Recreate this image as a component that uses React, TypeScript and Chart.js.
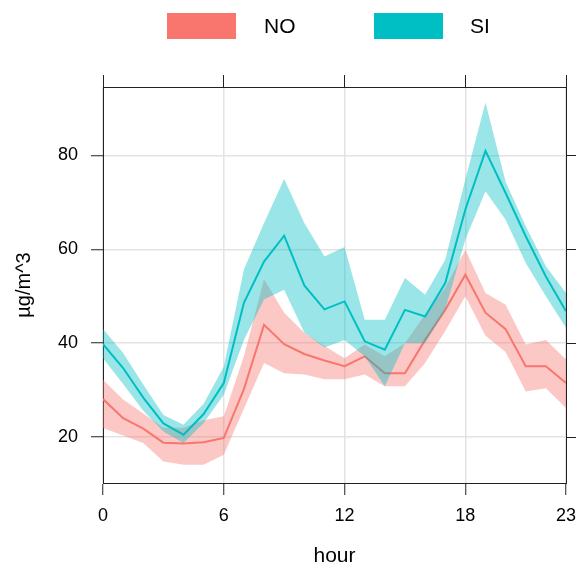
import React, { useEffect, useRef } from "react";
import { Chart, registerables } from "chart.js";

Chart.register(...registerables);

const hours = [0, 1, 2, 3, 4, 5, 6, 7, 8, 9, 10, 11, 12, 13, 14, 15, 16, 17, 18, 19, 20, 21, 22, 23];
const xTicks = [0, 6, 12, 18, 23];
const yTicks = [20, 40, 60, 80];

const noMean = [28.1, 24.0, 21.8, 18.8, 18.6, 18.9, 19.8, 30.2, 43.9, 39.8, 37.7, 36.3, 35.1, 37.2, 33.6, 33.6, 40.7, 47.1, 54.6, 46.5, 43.0, 35.1, 35.1, 31.5];
const noUpper = [32.2, 28.0, 25.0, 22.0, 22.0, 23.6, 24.4, 37.2, 53.6, 46.5, 42.2, 39.4, 36.8, 39.7, 37.2, 40.0, 46.1, 51.8, 59.9, 50.7, 48.2, 39.7, 40.7, 36.5];
const noLower = [21.9, 20.3, 18.7, 14.8, 14.1, 14.1, 16.2, 26.0, 35.8, 33.6, 33.3, 32.3, 32.3, 33.3, 30.8, 30.8, 35.8, 42.6, 50.0, 41.6, 38.1, 29.7, 30.4, 26.2];

const siMean = [39.8, 34.7, 28.4, 22.9, 20.5, 24.9, 31.5, 48.6, 57.4, 62.9, 52.3, 47.2, 48.9, 40.4, 38.6, 47.1, 45.7, 52.8, 68.5, 81.0, 72.0, 62.8, 54.2, 46.8];
const siUpper = [43.0, 37.9, 31.2, 24.7, 22.6, 27.1, 35.0, 55.7, 65.6, 75.0, 65.6, 58.5, 60.5, 45.0, 45.0, 53.9, 50.3, 57.8, 74.9, 91.3, 74.4, 64.9, 56.4, 50.7];
const siLower = [36.8, 31.3, 25.6, 21.2, 18.7, 23.0, 29.0, 40.7, 49.3, 51.4, 42.3, 39.1, 40.7, 37.2, 30.8, 40.0, 40.0, 47.1, 62.1, 72.4, 66.3, 57.1, 50.0, 43.3];

const seriesNames = ["NO", "SI"];
const lineColors = ["#F8766D", "#00BFC4"];
const bandColors = ["rgba(248,118,109,0.4)", "rgba(0,191,196,0.4)"];

const FONT = "'Liberation Sans', Arial, Helvetica, sans-serif";

const pts = (vals: number[]) => hours.map((h, i) => ({ x: h, y: vals[i] }));

export default function App() {
  const ref = useRef<HTMLCanvasElement | null>(null);

  useEffect(() => {
    if (!ref.current) return;
    const fixSize = (w?: number, h?: number) => (scale: any) => {
      if (w !== undefined) scale.width = w;
      if (h !== undefined) scale.height = h;
      scale.paddingLeft = 0;
      scale.paddingRight = 0;
      scale.paddingTop = 0;
      scale.paddingBottom = 0;
    };
    const setX = (scale: any) => {
      scale.ticks = xTicks.map((v) => ({ value: v }));
    };
    const setY = (scale: any) => {
      scale.ticks = yTicks.map((v) => ({ value: v }));
    };
    const band = (vals: number[], color: string, fill: any, order: number) => ({
      data: pts(vals),
      borderWidth: 0,
      borderColor: "rgba(0,0,0,0)",
      backgroundColor: color,
      pointRadius: 0,
      fill,
      tension: 0,
      order,
    });
    const chart = new Chart(ref.current, {
      type: "line",
      data: {
        datasets: [
          {
            label: seriesNames[0],
            data: pts(noMean),
            borderColor: lineColors[0],
            borderWidth: 2,
            pointRadius: 0,
            fill: false,
            order: 4,
          },
          {
            label: seriesNames[1],
            data: pts(siMean),
            borderColor: lineColors[1],
            borderWidth: 2,
            pointRadius: 0,
            fill: false,
            order: 1,
          },
          band(noUpper, bandColors[0], 3, 6),
          band(noLower, bandColors[0], false, 5),
          band(siUpper, bandColors[1], 5, 3),
          band(siLower, bandColors[1], false, 2),
        ],
      } as any,
      options: {
        animation: false,
        responsive: false,
        maintainAspectRatio: false,
        layout: { padding: { top: 75, left: 0, right: 0, bottom: 0 } },
        plugins: {
          legend: { display: false },
          tooltip: { enabled: false },
        },
        scales: {
          x: {
            type: "linear",
            position: "bottom",
            min: 0,
            max: 23,
            afterBuildTicks: setX,
            afterFit: fixSize(undefined, 86),
            grid: {
              color: "#e3e3e3",
              lineWidth: 1.5,
              tickColor: "#222",
              tickWidth: 1,
              tickLength: 12,
              drawTicks: true,
            },
            border: { display: true, color: "#222", width: 1 },
            ticks: {
              color: "#000",
              font: { family: FONT, size: 18 },
              padding: 10,
              maxRotation: 0,
              autoSkip: false,
            },
            title: {
              display: true,
              text: "hour",
              color: "#000",
              font: { family: FONT, size: 21 },
              padding: { top: 0, bottom: 0 },
            },
          },
          x2: {
            type: "linear",
            position: "top",
            min: 0,
            max: 23,
            afterBuildTicks: setX,
            afterFit: fixSize(undefined, 12),
            grid: {
              drawOnChartArea: false,
              tickColor: "#222",
              tickLength: 12,
              drawTicks: true,
            },
            border: { display: true, color: "#222", width: 1 },
            ticks: { display: false },
          },
          y: {
            type: "linear",
            position: "left",
            min: 10.2,
            max: 94.6,
            afterBuildTicks: setY,
            afterFit: fixSize(103, undefined),
            grid: {
              color: "#e3e3e3",
              lineWidth: 1.5,
              tickColor: "#222",
              tickWidth: 1,
              tickLength: 12,
            },
            border: { display: true, color: "#222", width: 1 },
            ticks: {
              color: "#000",
              font: { family: FONT, size: 18 },
              padding: 13,
            },
            title: {
              display: true,
              text: "µg/m^3",
              color: "#000",
              font: { family: FONT, size: 20 },
              padding: { top: 12, bottom: 0 },
            },
          },
          y2: {
            type: "linear",
            position: "right",
            min: 10.2,
            max: 94.6,
            afterBuildTicks: setY,
            afterFit: fixSize(11, undefined),
            grid: {
              drawOnChartArea: false,
              tickColor: "#222",
              tickLength: 10,
            },
            border: { display: true, color: "#222", width: 1 },
            ticks: { display: false },
          },
        },
      } as any,
    });
    return () => chart.destroy();
  }, []);

  const legendText: React.CSSProperties = {
    position: "absolute",
    top: 13,
    height: 26,
    lineHeight: "26px",
    fontFamily: FONT,
    fontSize: 21,
    color: "#000",
    whiteSpace: "nowrap",
  };
  const box: React.CSSProperties = {
    position: "absolute",
    top: 13,
    width: 69,
    height: 26,
  };

  return (
    <div style={{ position: "absolute", left: 0, top: 0, width: 577, height: 569, background: "#fff" }}>
      <canvas ref={ref} width={577} height={569} style={{ position: "absolute", left: 0, top: 0, width: 577, height: 569 }} />
      <div style={{ ...box, left: 167, background: lineColors[0] }} />
      <span style={{ ...legendText, left: 264 }}>{seriesNames[0]}</span>
      <div style={{ ...box, left: 374, background: lineColors[1] }} />
      <span style={{ ...legendText, left: 470 }}>{seriesNames[1]}</span>
    </div>
  );
}
